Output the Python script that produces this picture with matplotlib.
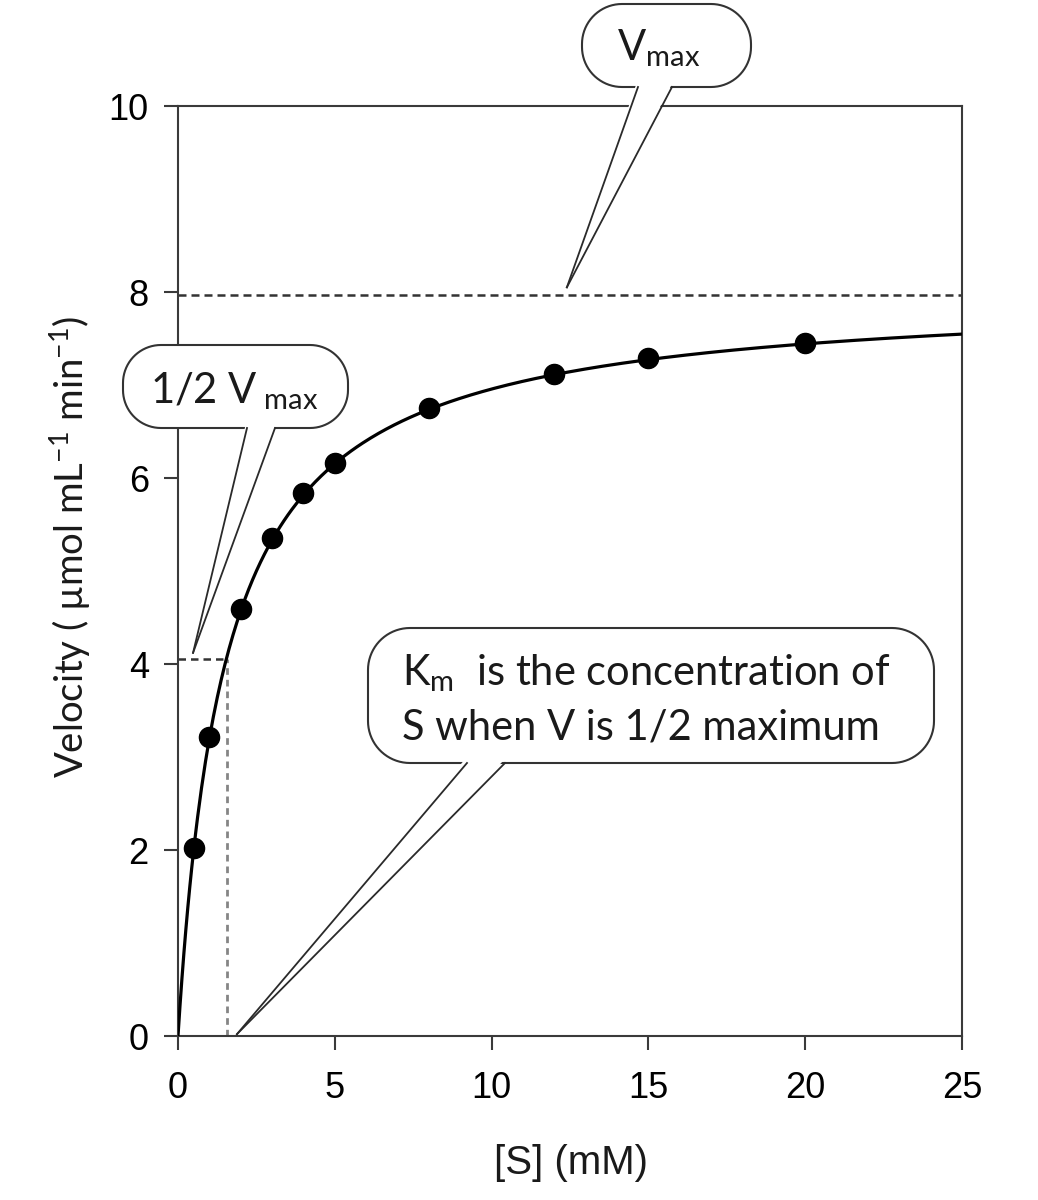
import numpy as np
import matplotlib
matplotlib.use("Agg")
import matplotlib.pyplot as plt
from matplotlib.patches import Polygon
from matplotlib.lines import Line2D
from matplotlib.transforms import Affine2D

# measured substrate concentrations and velocities
s_data = [0.5, 1, 2, 3, 4, 5, 8, 12, 15, 20]
v_data = [2.02, 3.22, 4.59, 5.35, 5.84, 6.16, 6.75, 7.12, 7.29, 7.45]

# fitted Michaelis-Menten parameters
vmax_fit = 8.0
km_fit = 1.5

# guide lines
vmax_line = 7.97
half_line = 4.05
km_line = 1.55

x_ticks = [0, 5, 10, 15, 20, 25]
y_ticks = [0, 2, 4, 6, 8, 10]

plt.rcParams['mathtext.fontset'] = 'custom'
plt.rcParams['mathtext.rm'] = 'Lato'
plt.rcParams['mathtext.it'] = 'Lato:italic'
plt.rcParams['mathtext.bf'] = 'Lato:bold'

W, H = 1038, 1200
fig = plt.figure(figsize=(W / 100, H / 100), dpi=100)
ax = fig.add_axes([178 / W, 1 - 1036 / H, (962 - 178) / W, (1036 - 106) / H])
# pixel coordinates of the picture, y going down
ref = Affine2D().scale(1 / W, -1 / H).translate(0, 1) + fig.transFigure

s_fit = np.linspace(0, 25, 400)
v_fit = vmax_fit * s_fit / (km_fit + s_fit)
ax.plot(s_fit, v_fit, color='black', lw=2.3, zorder=3)
ax.plot(s_data, v_data, 'o', color='black', ms=14.5, zorder=4)

ax.axhline(vmax_line, color='#333333', lw=1.8, dashes=(3.2, 2.0), zorder=2)
ax.plot([0, km_line], [half_line, half_line], color='#333333', lw=1.8,
        dashes=(3.0, 2.0), zorder=2)
ax.plot([km_line, km_line], [0, half_line], color='#858585', lw=2.0,
        dashes=(2.4, 1.8), zorder=2)

ax.set_xlim(0, 25)
ax.set_ylim(0, 10)
ax.set_xticks(x_ticks)
ax.set_yticks(y_ticks)
for sp in ax.spines.values():
    sp.set_color('#3a3a3a')
    sp.set_linewidth(1.5)
ax.tick_params(direction='out', length=10, width=1.5, color='#3a3a3a',
               labelsize=26, labelcolor='black')
ax.tick_params(axis='x', pad=15)
ax.tick_params(axis='y', pad=11)
for lab in ax.get_xticklabels() + ax.get_yticklabels():
    lab.set_fontfamily('Liberation Sans')

fig.text(571, 1163, '[S] (mM)', transform=ref, ha='center', va='center',
         fontsize=29, family='Liberation Sans', color='#1a1a1a')
fig.text(70, 547, 'Velocity ( µmol mL$^{-1}$ min$^{-1}$)', transform=ref,
         ha='center', va='center', rotation=90, fontsize=27.5,
         family=['Lato', 'DejaVu Sans'], color='#1a1a1a')


def rounded_box(x0, y0, x1, y1, r):
    # corner centres and the angle range of each arc (y goes down)
    corners = [(x1 - r, y0 + r, -90, 0), (x1 - r, y1 - r, 0, 90),
               (x0 + r, y1 - r, 90, 180), (x0 + r, y0 + r, 180, 270)]
    pts = []
    for cx, cy, a0, a1 in corners:
        a = np.radians(np.linspace(a0, a1, 20))
        pts += list(zip(cx + r * np.cos(a), cy + r * np.sin(a)))
    return pts


def callout(box, r, base, tip):
    fig.add_artist(Polygon(rounded_box(*box, r), closed=True, transform=ref,
                           fc='white', ec='#333333', lw=1.5, zorder=5))
    bl, br, by = base
    fig.add_artist(Polygon([(bl - 1, by - 5), (br + 1, by - 5), tip],
                           closed=True, transform=ref, fc='white', ec='none',
                           zorder=6))
    for bx in (bl, br):
        fig.add_artist(Line2D([bx, tip[0]], [by, tip[1]], transform=ref,
                              color='#2a2a2a', lw=1.3, zorder=7))


def to_ref(x, y):
    return tuple(ref.inverted().transform(ax.transData.transform((x, y))))


callout((582, 4, 751, 87), 40, (638, 672, 87), to_ref(12.4, 8.05))
callout((123, 345, 348, 428), 38, (247, 275, 428), to_ref(0.48, 4.12))
callout((368, 628, 934, 763), 42, (467, 505, 763), to_ref(1.88, 0.02))

txt = dict(transform=ref, ha='left', va='baseline', fontsize=30,
           family=['Lato', 'DejaVu Sans'], color='#1a1a1a', zorder=8)
fig.text(617, 60, 'V$_{\\mathrm{max}}$', **txt)
fig.text(150, 403, '1/2 V$_{\\mathrm{\\ max}}$', **txt)
fig.text(402, 685, 'K$_{\\mathrm{m}}$  is the concentration of', **txt)
fig.text(402, 740, 'S when V is 1/2 maximum', **txt)

fig.savefig('out.png', dpi=100)
